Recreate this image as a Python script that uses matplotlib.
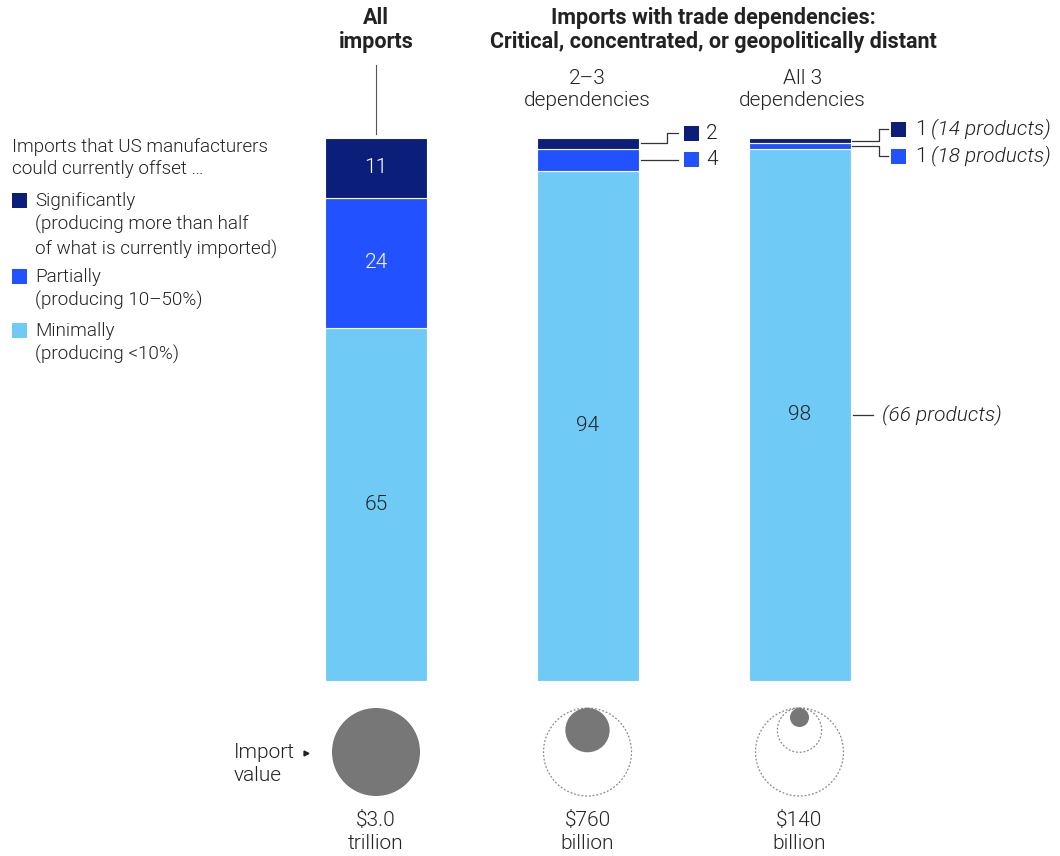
import matplotlib.pyplot as plt
from matplotlib.patches import Circle, Rectangle
import numpy as np

# share of import value (%) that US manufacturers could offset
groups = ["All imports", "2–3 dependencies", "All 3 dependencies"]
significant = np.array([11, 2, 1])
partial = np.array([24, 4, 1])
minimal = np.array([65, 94, 98])

# import value, $ billion
import_value = np.array([3000, 760, 140])
value_labels = ["$3.0\ntrillion", "$760\nbillion", "$140\nbillion"]

DARK = "#0b1f7a"
MID = "#2251ff"
LIGHT = "#6fcbf6"
INK = "#222222"
GREY = "#777777"

plt.rcParams["font.family"] = ["Roboto", "DejaVu Sans"]
FS = 15      # labels, numbers
FS_LEG = 13.6
FS_HEAD = 15.5
WT = 300     # light weight for body text

W, H = 1060, 856
fig = plt.figure(figsize=(W / 100, H / 100), dpi=100)

# bar panel: y in percent, x in figure pixels
bar_top, bar_bot = 138, 681
ax = fig.add_axes([0, 1 - bar_bot / H, 1, (bar_bot - bar_top) / H])
ax.set_xlim(0, W)
ax.set_ylim(0, 100)
ax.axis("off")

xs = np.array([376, 587.5, 799.5])
bw = 102
ax.bar(xs, minimal, bw, color=LIGHT, edgecolor="white", linewidth=0.8)
ax.bar(xs, partial, bw, bottom=minimal, color=MID, edgecolor="white", linewidth=0.8)
ax.bar(xs, significant, bw, bottom=minimal + partial, color=DARK,
       edgecolor="white", linewidth=0.8)

# overlay in pixel coordinates for text, callouts and circles
ov = fig.add_axes([0, 0, 1, 1], facecolor="none")
ov.set_xlim(0, W)
ov.set_ylim(H, 0)
ov.axis("off")


def ypx(pct):
    return bar_bot - (bar_bot - bar_top) * pct / 100


def txt(x, y, s, size=FS, **kw):
    kw.setdefault("color", INK)
    kw.setdefault("va", "center")
    kw.setdefault("fontweight", WT)
    return ov.text(x, y, s, fontsize=size, **kw)


# values inside the bars
txt(xs[0], ypx(100 - significant[0] / 2), str(significant[0]), color="white", ha="center")
txt(xs[0], ypx(minimal[0] + partial[0] / 2), str(partial[0]), color="white", ha="center")
for i in range(3):
    txt(xs[i], ypx(minimal[i] / 2), str(minimal[i]), ha="center")

# headers
txt(376, 30, "All\nimports", FS_HEAD, fontweight="bold", ha="center", linespacing=1.1)
txt(713, 30, "Imports with trade dependencies:\nCritical, concentrated, or geopolitically distant",
    FS_HEAD, fontweight="bold", ha="center", linespacing=1.1)
txt(xs[1], 89, "2–3\ndependencies", ha="center", linespacing=1.2)
txt(xs[2] + 3, 89, "All 3\ndependencies", ha="center", linespacing=1.2)
ov.plot([376, 376], [65, 134], color="#555555", lw=0.8)

# legend
txt(12, 158, "Imports that US manufacturers\ncould currently offset …", FS_LEG,
    ha="left", linespacing=1.35)
legend_items = [
    (DARK, 200, "Significantly\n(producing more than half\nof what is currently imported)"),
    (MID, 276, "Partially\n(producing 10–50%)"),
    (LIGHT, 330, "Minimally\n(producing <10%)"),
]
for col, y, s in legend_items:
    ov.add_patch(Rectangle((12, y - 7.5), 15, 15, color=col, lw=0))
    txt(35, y - 8, s, FS_LEG, ha="left", va="top", linespacing=1.35)

# callouts for bar 2
lc = "#333333"
y_sig = ypx(100 - significant[1] / 2)
y_par = ypx(minimal[1] + partial[1] / 2)
ov.plot([641, 667, 667, 678], [y_sig, y_sig, 133, 133], color=lc, lw=0.9)
ov.add_patch(Rectangle((684, 133 - 7.5), 15, 15, color=DARK, lw=0))
txt(706, 133, str(significant[1]))
ov.plot([641, 678], [y_par, y_par], color=lc, lw=0.9)
ov.add_patch(Rectangle((684, y_par - 7.5), 15, 15, color=MID, lw=0))
txt(706, y_par, str(partial[1]))

# callouts for bar 3
y_sig = ypx(100 - significant[2] / 2)
y_par = ypx(minimal[2] + partial[2] / 2)
ov.plot([852, 879, 879, 888], [y_sig, y_sig, 129, 129], color=lc, lw=0.9)
ov.plot([852, 879, 879, 888], [y_par, y_par, 156, 156], color=lc, lw=0.9)
for col, y, v, n in [(DARK, 129, significant[2], 14), (MID, 156, partial[2], 18)]:
    ov.add_patch(Rectangle((891, y - 7.5), 15, 15, color=col, lw=0))
    txt(915, y, str(v))
    txt(931, y, f"({n} products)", style="italic")
y_min = ypx(minimal[2] / 2)
ov.plot([853, 873], [y_min, y_min], color=lc, lw=0.9)
txt(882, y_min, "(66 products)", style="italic")

# import value circles, area proportional to value
R = 44
top = 708
r = R * np.sqrt(import_value / import_value[0])
for i, x in enumerate(xs):
    for j in range(i):
        ov.add_patch(Circle((x, top + r[j]), r[j], fill=False, ec="#8a8a8a",
                            lw=0.9, ls=(0, (1.5, 1.5))))
    ov.add_patch(Circle((x, top + r[i]), r[i], color=GREY, lw=0))
    txt(x, 832, value_labels[i], ha="center", linespacing=1.27)

txt(234, 764, "Import\nvalue", ha="left", linespacing=1.27)
ov.plot([306], [753], marker=">", color=INK, ms=3.5)

fig.savefig("out.png", dpi=100)
